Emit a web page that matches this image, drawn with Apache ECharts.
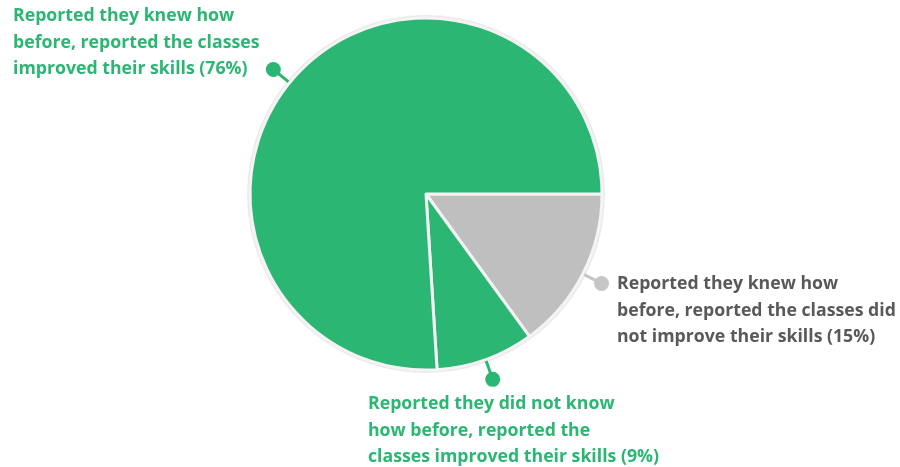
<!DOCTYPE html>
<html><head><meta charset="utf-8">
<script src="https://cdn.jsdelivr.net/npm/echarts@6/dist/echarts.min.js"></script>
<style>html,body{margin:0;padding:0;background:#fff}#c{width:900px;height:467px}</style>
</head><body><div id="c"></div>
<script>
const categories = [
  'Reported they knew how\nbefore, reported the classes did\nnot improve their skills (15%)',
  'Reported they did not know\nhow before, reported the\nclasses improved their skills (9%)',
  'Reported they knew how\nbefore, reported the classes\nimproved their skills (76%)'
];
const values = [15, 9, 76];
const sliceColors = ['#bfbfbf', '#2bb673', '#2bb673'];
const textColors = ['#595959', '#2bb673', '#2bb673'];
const dotColors = ['#c6c6c6', '#2bb673', '#2bb673'];

const center = [426, 194];
const radius = 176;
const FONT = '"Open Sans", Lato, sans-serif';
// small angular nudge of the leader (degrees) and label anchors
const leaderNudge = [0, 0, -4];
const textPos = [[617, 271], [368, 391], [13, 3]];

const dotData = values.map((v, i) => ({
  name: categories[i], value: v,
  itemStyle: { color: sliceColors[i] },
  label: { rich: { d: { width: 15, height: 15, borderRadius: 7.5, backgroundColor: dotColors[i] } } },
  labelLine: { lineStyle: { color: dotColors[i] } }
}));
const textData = values.map((v, i) => ({
  name: categories[i], value: v,
  label: { color: textColors[i] }
}));

const chart = echarts.init(document.getElementById('c'), null, { renderer: 'canvas' });
chart.setOption({
  animation: false,
  series: [
    {
      type: 'pie', silent: true, center: center, radius: radius + 3,
      data: [{ value: 1, itemStyle: { color: '#ebebeb' } }],
      label: { show: false }, labelLine: { show: false }, z: 1
    },
    {
      type: 'pie', center: center, radius: radius, startAngle: 0, clockwise: true,
      avoidLabelOverlap: false, z: 2,
      itemStyle: { borderColor: '#f4f4f4', borderWidth: 3 },
      label: { show: true, position: 'outside', formatter: '{d|}' },
      labelLine: { show: true, length: 14, length2: 0, lineStyle: { width: 3 } },
      labelLayout: function (p) {
        const pts = p.labelLinePoints;
        if (!pts) return {};
        const a = pts[0];
        let ang = Math.atan2(a[1] - center[1], a[0] - center[0]) + leaderNudge[p.dataIndex] * Math.PI / 180;
        const c = Math.cos(ang), s = Math.sin(ang);
        const p0 = [center[0] + c * (radius + 1), center[1] + s * (radius + 1)];
        const p1 = [center[0] + c * (radius + 21), center[1] + s * (radius + 21)];
        return { x: p1[0], y: p1[1], align: 'center', verticalAlign: 'middle', labelLinePoints: [p0, p1, p1] };
      },
      data: dotData
    },
    {
      type: 'pie', center: center, radius: radius, startAngle: 0, clockwise: true,
      avoidLabelOverlap: false, silent: true, z: 3,
      itemStyle: { color: 'rgba(0,0,0,0)', borderWidth: 0 },
      label: {
        show: true, position: 'outside', formatter: '{b}',
        fontFamily: FONT, fontWeight: 'bold', fontSize: 17.7, lineHeight: 26.5
      },
      labelLine: { show: false },
      labelLayout: function (p) {
        const pos = textPos[p.dataIndex];
        return { x: pos[0], y: pos[1], align: 'left', verticalAlign: 'top' };
      },
      data: textData
    }
  ]
});
</script></body></html>
